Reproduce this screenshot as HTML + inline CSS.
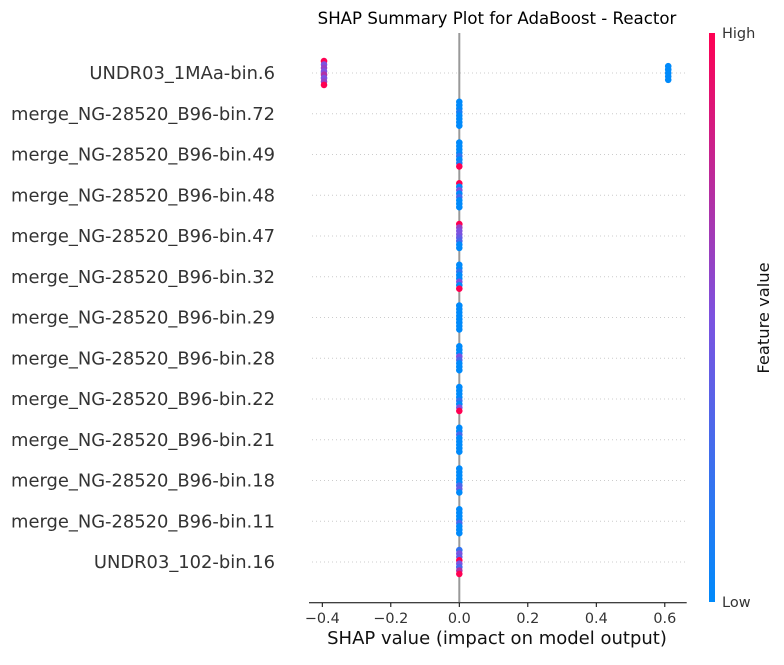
<!DOCTYPE html>
<html><head><meta charset="utf-8"><style>body{margin:0;background:#fff}svg{font-family:"DejaVu Sans","Liberation Sans",sans-serif}</style></head>
<body>
<svg id="chart" width="784" height="660" viewBox="0 0 784 660" xmlns="http://www.w3.org/2000/svg">
<defs><linearGradient id="cb" x1="0" y1="1" x2="0" y2="0"><stop offset="0" stop-color="#008afb"/><stop offset="0.5" stop-color="#7c52e0"/><stop offset="1" stop-color="#ff0052"/></linearGradient></defs>
<text x="497" y="24" font-size="16.6" text-anchor="middle" fill="#000">SHAP Summary Plot for AdaBoost - Reactor</text>
<g id="grid"></g>
<line x1="459.3" y1="33" x2="459.3" y2="602" stroke="#999" stroke-width="2"/>
<g id="dots"></g>
<g id="labels"></g>
<line x1="309" y1="602.7" x2="686.7" y2="602.7" stroke="#000" stroke-width="1"/>
<g id="ticks"></g>
<text x="497" y="644" font-size="18" text-anchor="middle" fill="#111">SHAP value (impact on model output)</text>
<rect x="709" y="33" width="6" height="569" fill="url(#cb)"/>
<text x="722" y="38" font-size="14.5" fill="#333">High</text>
<text x="722" y="607" font-size="14.5" fill="#333">Low</text>
<text transform="translate(769,318) rotate(-90)" font-size="16.3" text-anchor="middle" fill="#111">Feature value</text>
</svg>
<script>
const features=["UNDR03_1MAa-bin.6","merge_NG-28520_B96-bin.72","merge_NG-28520_B96-bin.49","merge_NG-28520_B96-bin.48","merge_NG-28520_B96-bin.47","merge_NG-28520_B96-bin.32","merge_NG-28520_B96-bin.29","merge_NG-28520_B96-bin.28","merge_NG-28520_B96-bin.22","merge_NG-28520_B96-bin.21","merge_NG-28520_B96-bin.18","merge_NG-28520_B96-bin.11","UNDR03_102-bin.16"];
const shapValues=[
 [-0.395,-0.395,-0.395,-0.395,-0.395,-0.395,-0.395,-0.395,0.61,0.61,0.61,0.61,0.61],
 [0,0,0,0,0,0,0,0],[0,0,0,0,0,0,0,0],[0,0,0,0,0,0,0,0],[0,0,0,0,0,0,0,0],[0,0,0,0,0,0,0,0],[0,0,0,0,0,0,0,0],[0,0,0,0,0,0,0,0],[0,0,0,0,0,0,0,0],[0,0,0,0,0,0,0,0],[0,0,0,0,0,0,0,0],[0,0,0,0,0,0,0,0],[0,0,0,0,0,0,0,0]];
const featureValues=[
 [1,0.5,0.6,0.5,0.7,0.5,0.6,1,0,0,0,0,0],
 [0,0,0,0.1,0,0,0,0],
 [0,0,0,0,0.2,0,0.1,1],
 [1,0,0.5,0,0.3,0,0,0],
 [1,0.6,0.5,0.5,0.4,0.3,0,0],
 [0,0,0.2,0,0,0.5,0,1],
 [0,0,0,0,0,0,0,0],
 [0,0,0,0.5,0.3,0,0,0],
 [0,0,0,0,0.2,0,0.5,1],
 [0,0,0.3,0,0,0,0,0],
 [0,0,0,0,0,0.3,0.4,0],
 [0,0,0,0,0.3,0,0,0],
 [0.2,0.5,0.4,1,0.5,0.3,0.7,1]];
const xTicks=[-0.4,-0.2,0.0,0.2,0.4,0.6];
const NS="http://www.w3.org/2000/svg";
const x0=459.3, pxPerUnit=342.5, rowTop=73, rowStep=40.75;
const xs=v=>x0+v*pxPerUnit, ys=i=>rowTop+i*rowStep;
function col(t){const a=[0,138,251],m=[124,82,224],b=[255,0,82];let c;
 if(t<0.5){const u=t/0.5;c=a.map((v,k)=>v+(m[k]-v)*u);}else{const u=(t-0.5)/0.5;c=m.map((v,k)=>v+(b[k]-v)*u);}
 return `rgb(${c.map(Math.round).join(",")})`;}
const grid=document.getElementById('grid'),dots=document.getElementById('dots'),labels=document.getElementById('labels'),ticks=document.getElementById('ticks');
features.forEach((f,i)=>{
 const y=ys(i);
 const g=document.createElementNS(NS,'line');
 
 
 g.setAttribute('x1',312);g.setAttribute('x2',686);g.setAttribute('y1',y);g.setAttribute('y2',y);
 g.setAttribute('stroke','#ccc');g.setAttribute('stroke-dasharray','1 3');g.setAttribute('stroke-width','1');
 grid.appendChild(g);
 const t=document.createElementNS(NS,'text');
 
 
 t.setAttribute('x',275);t.setAttribute('y',y+6);t.setAttribute('text-anchor','end');t.setAttribute('font-size','17.9');t.setAttribute('fill','#333');
 t.textContent=f;labels.appendChild(t);
 const groups={};
 shapValues[i].forEach((v,j)=>{(groups[v]=groups[v]||[]).push(j);});
 Object.keys(groups).forEach(k=>{
  const idx=groups[k],n=idx.length,sp=n>1?Math.min(3.4,24/(n-1)):0;
  idx.forEach((j,q)=>{
   const c=document.createElementNS(NS,'circle');
   
   
   c.setAttribute('cx',xs(shapValues[i][j]));
   c.setAttribute('cy',y+(q-(n-1)/2)*sp);
   c.setAttribute('r',3.3);
   c.setAttribute('fill',col(featureValues[i][j]));
   dots.appendChild(c);
  });
 });
});
xTicks.forEach(v=>{
 const x=xs(v);
 const l=document.createElementNS(NS,'line');
 
 
 l.setAttribute('x1',x);l.setAttribute('x2',x);l.setAttribute('y1',602.7);l.setAttribute('y2',607);l.setAttribute('stroke','#000');
 ticks.appendChild(l);
 const t=document.createElementNS(NS,'text');
 
 
 t.setAttribute('x',x);t.setAttribute('y',623);t.setAttribute('text-anchor','middle');t.setAttribute('font-size','14.4');t.setAttribute('fill','#333');
 t.textContent=(v<0?"\u2212":"")+Math.abs(v).toFixed(1);
 ticks.appendChild(t);
});
</script>
</body></html>
